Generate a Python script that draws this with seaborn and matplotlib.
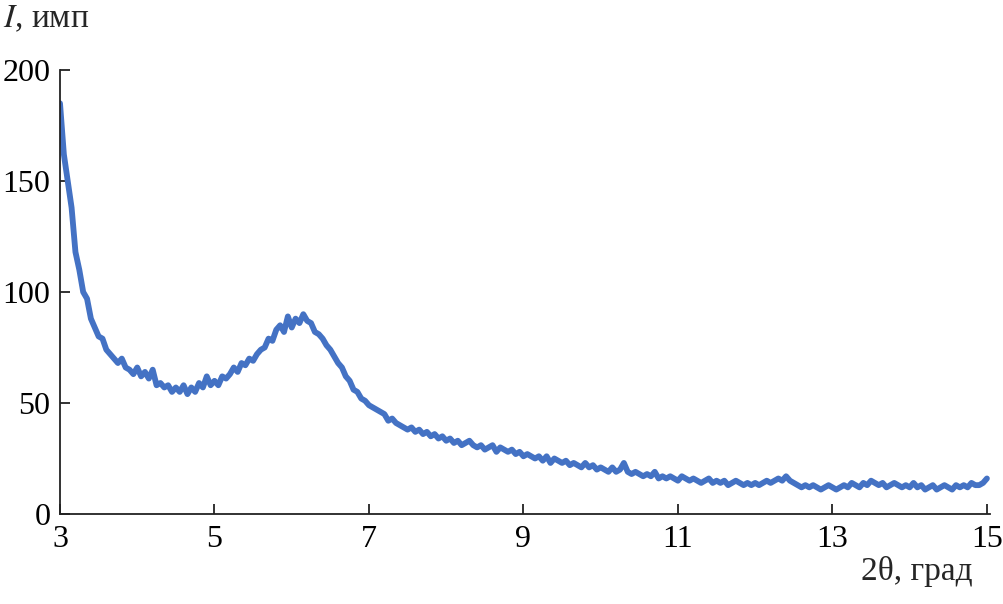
import numpy as np
import pandas as pd
import matplotlib
matplotlib.use("Agg")
import matplotlib.pyplot as plt
import seaborn as sns

# 2theta grid, step 0.05 deg
two_theta = np.round(np.arange(3.0, 15.0001, 0.05), 2)

# intensity (counts)
intensity = [
    185, 162, 150, 138, 118, 110, 100, 97, 88, 84,
    80, 79, 74, 72, 70, 68, 70, 66, 65, 63,
    66, 62, 64, 61, 65, 58, 59, 57, 58, 55,
    57, 55, 58, 54, 57, 55, 59, 57, 62, 58,
    60, 58, 62, 61, 63, 66, 64, 68, 67, 70,
    69, 72, 74, 75, 79, 78, 83, 85, 82, 89,
    84, 88, 86, 90, 87, 86, 82, 81, 79, 76,
    74, 71, 68, 66, 62, 60, 56, 55, 52, 51,
    49, 48, 47, 46, 45, 42, 43, 41, 40, 39,
    38, 39, 37, 38, 36, 37, 35, 36, 34, 35,
    33, 34, 32, 33, 31, 32, 33, 31, 30, 31,
    29, 30, 31, 28, 30, 29, 28, 29, 27, 28,
    26, 27, 26, 25, 26, 24, 26, 23, 25, 24,
    23, 24, 22, 23, 22, 21, 23, 21, 22, 20,
    21, 20, 19, 21, 19, 20, 23, 19, 18, 19,
    18, 17, 18, 17, 19, 16, 17, 16, 17, 16,
    15, 17, 16, 15, 16, 15, 14, 15, 16, 14,
    15, 14, 15, 13, 14, 15, 14, 13, 14, 13,
    14, 13, 14, 15, 14, 15, 16, 15, 17, 15,
    14, 13, 12, 13, 12, 13, 12, 11, 12, 13,
    12, 11, 12, 13, 12, 14, 13, 12, 14, 13,
    15, 14, 13, 14, 12, 13, 14, 13, 12, 13,
    12, 14, 12, 13, 11, 12, 13, 11, 12, 13,
    12, 11, 13, 12, 13, 12, 14, 13, 13, 14,
    16,
]

xticks = [3, 5, 7, 9, 11, 13, 15]
yticks = [0, 50, 100, 150, 200]

df = pd.DataFrame({"two_theta": two_theta, "I": intensity})

sns.set_style("ticks")
plt.rcParams["font.family"] = ["Liberation Serif", "DejaVu Serif"]
plt.rcParams["mathtext.fontset"] = "stix"

fig = plt.figure(figsize=(10.04, 6.04), dpi=100)
ax = fig.add_axes([60 / 1004, 90 / 604, 930 / 1004, 444 / 604])

sns.lineplot(data=df, x="two_theta", y="I", ax=ax, color="#4472C4",
             linewidth=4.2, estimator=None)

ax.set_xlim(3, 15.04)
ax.set_ylim(0, 200)
ax.set_xticks(xticks)
ax.set_yticks(yticks)
ax.set_xlabel("")
ax.set_ylabel("")
sns.despine(ax=ax)
for s in ["left", "bottom"]:
    ax.spines[s].set_linewidth(1.3)
    ax.spines[s].set_color("#222222")
ax.tick_params(direction="in", length=7.5, width=1.3, colors="#222222",
               labelsize=23, labelcolor="black", pad=8)
ax.tick_params(axis="y", pad=7)

fig.text(3 / 1004, 1 - 27 / 604, r"$\mathit{I}$, имп", fontsize=24,
         ha="left", va="baseline")
fig.text(973 / 1004, 1 - 580 / 604, "2θ, град", fontsize=24,
         ha="right", va="baseline")

fig.savefig("out.png", dpi=100)
